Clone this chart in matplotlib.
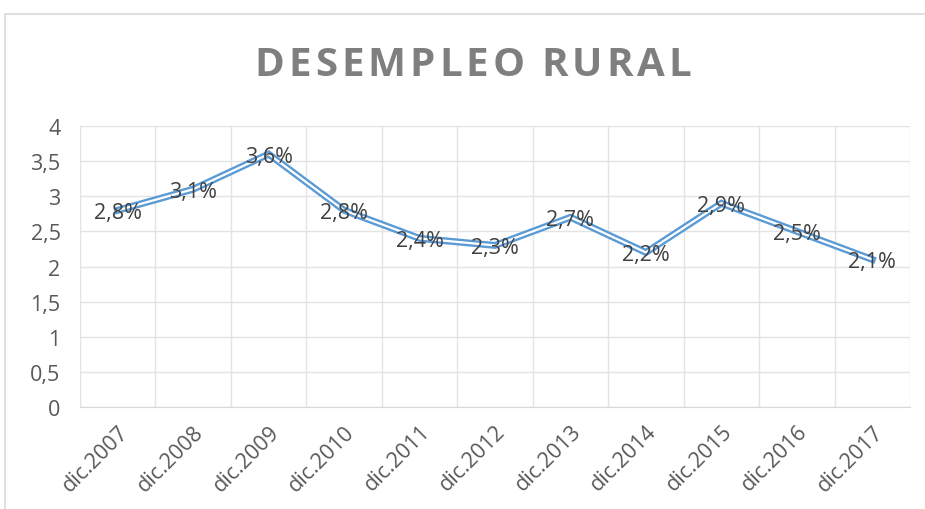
import numpy as np
from matplotlib import pyplot as plt
from matplotlib.patches import Rectangle

# datos del grafico
anios = ["dic.2007", "dic.2008", "dic.2009", "dic.2010", "dic.2011", "dic.2012",
         "dic.2013", "dic.2014", "dic.2015", "dic.2016", "dic.2017"]
desempleo = [2.8, 3.1, 3.6, 2.8, 2.4, 2.3, 2.7, 2.2, 2.9, 2.5, 2.1]
yticks = [0, 0.5, 1, 1.5, 2, 2.5, 3, 3.5, 4]
titulo = "DESEMPLEO RURAL"

plt.rcParams['font.family'] = ['Open Sans', 'DejaVu Sans']

fig = plt.figure(figsize=(9.25, 5.1), dpi=100)
ax = fig.add_axes([80 / 925, 1 - 408 / 510, 830 / 925, 281 / 510])

# borde del area del grafico (recortado)
fig.patches.append(Rectangle((5 / 925, -0.1), 1.1, 1.1 - 15 / 510,
                             transform=fig.transFigure, fill=False,
                             edgecolor="#D9D9D9", linewidth=1.2))

x = np.arange(len(anios))
ax.plot(x, desempleo, color="#5B9BD5", linewidth=5.0, solid_joinstyle="miter", zorder=3)
ax.plot(x, desempleo, color="white", linewidth=1.6, solid_joinstyle="miter", zorder=4)

for xi, v in zip(x, desempleo):
    ax.text(xi, v - 0.03, ("%.1f%%" % v).replace(".", ","), ha="center", va="center",
            fontsize=15.5, color="#404040", zorder=5)

ax.set_xlim(-0.5, len(anios) - 0.5)
ax.set_ylim(0, 4)
ax.set_yticks(yticks)
ax.set_yticklabels([str(t).replace(".", ",").replace(",0", "") for t in yticks])
ax.set_xticks(x)
ax.set_xticklabels(anios, rotation=45, ha="right", va="top", rotation_mode="anchor")

for b in np.arange(-0.5, len(anios), 1):
    ax.axvline(b, color="#E3E3E3", linewidth=1, zorder=1)
ax.grid(axis="y", color="#E3E3E3", linewidth=1, zorder=1)

for s in ["top", "right", "left"]:
    ax.spines[s].set_visible(False)
ax.spines["bottom"].set_color("#D9D9D9")
ax.tick_params(axis="both", length=0, labelsize=15.5, labelcolor="#595959")
ax.tick_params(axis="y", pad=14)
ax.tick_params(axis="x", pad=10)

# titulo con espaciado entre letras
renderer = fig.canvas.get_renderer()
letras = []
for c in titulo:
    t = fig.text(0, 1 - 66 / 510, c, ha="left", va="center", fontsize=29,
                 fontweight="bold", color="#7F7F7F")
    letras.append(t)
anchos = [t.get_window_extent(renderer).width if c != " " else 9 for t, c in zip(letras, titulo)]
espacio = 4.0
total = sum(anchos) + espacio * (len(titulo) - 1)
pos = 473 - total / 2
for t, w in zip(letras, anchos):
    t.set_x(pos / 925)
    pos += w + espacio

fig.savefig("out.png", dpi=100)
